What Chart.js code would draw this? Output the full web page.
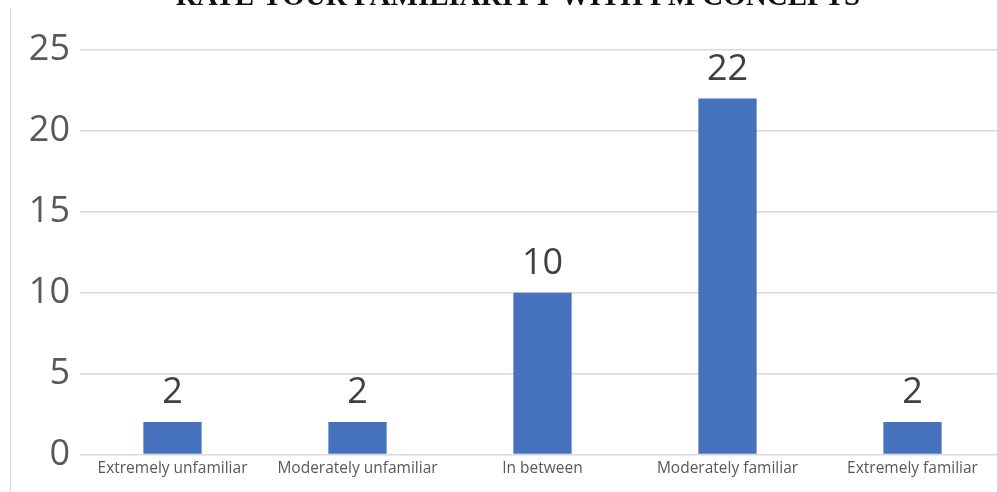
<!DOCTYPE html>
<html>
<head>
<meta charset="utf-8">
<script src="https://cdn.jsdelivr.net/npm/chart.js@4"></script>
<style>
html,body{margin:0;padding:0;background:#fff;overflow:hidden;}
#wrap{width:997px;height:492px;overflow:hidden;position:relative;}
</style>
</head>
<body>
<div id="wrap"><canvas id="c" width="1010" height="492"></canvas></div>
<script>
const categories = ["Extremely unfamiliar","Moderately unfamiliar","In between","Moderately familiar","Extremely familiar"];
const values = [2, 2, 10, 22, 2];
const yTicks = [0, 5, 10, 15, 20, 25];
const titleText = "RATE YOUR FAMILIARITY WITH PM CONCEPTS";

const decor = {
  id: 'decor',
  beforeDraw(chart) {
    const ctx = chart.ctx;
    ctx.save();
    ctx.strokeStyle = '#dcdcdc';
    ctx.lineWidth = 1;
    ctx.beginPath();
    ctx.moveTo(10.5, 8);
    ctx.lineTo(10.5, 492);
    ctx.stroke();
    ctx.restore();
  },
  afterDraw(chart) {
    const ctx = chart.ctx;
    ctx.save();
    ctx.fillStyle = '#111';
    ctx.font = 'bold 29px "Liberation Serif", "Times New Roman", serif';
    ctx.textAlign = 'center';
    ctx.textBaseline = 'alphabetic';
    ctx.fillText(titleText, 518, 5);
    // data labels
    const meta = chart.getDatasetMeta(0);
    ctx.fillStyle = '#404040';
    ctx.font = '36px "Open Sans", sans-serif';
    ctx.textBaseline = 'bottom';
    meta.data.forEach((bar, i) => {
      ctx.fillText(String(values[i]), bar.x, bar.y - 11);
    });
    ctx.restore();
  }
};

new Chart(document.getElementById('c'), {
  type: 'bar',
  data: {
    labels: categories,
    datasets: [{
      data: values,
      backgroundColor: '#4672BD',
      barPercentage: 0.315,
      categoryPercentage: 1.0
    }]
  },
  options: {
    responsive: false,
    animation: false,
    layout: { padding: { top: 50, right: 5, left: 0, bottom: 9 } },
    plugins: { legend: { display: false }, tooltip: { enabled: false } },
    scales: {
      x: {
        grid: { display: false, drawTicks: false },
        border: { display: false },
        ticks: { color: '#595959', font: { family: '"Open Sans", sans-serif', size: 15.5 }, padding: 5, maxRotation: 0, autoSkip: false }
      },
      y: {
        min: 0, max: 25,
        afterBuildTicks(axis) { axis.ticks = yTicks.map(v => ({ value: v })); },
        grid: { color: '#d9d9d9', lineWidth: 1.5, drawTicks: false },
        border: { display: false },
        ticks: { color: '#595959', font: { family: '"Open Sans", sans-serif', size: 36 }, padding: 10 },
        afterFit(axis) { axis.width = 80; }
      }
    }
  },
  plugins: [decor]
});
</script>
</body>
</html>
